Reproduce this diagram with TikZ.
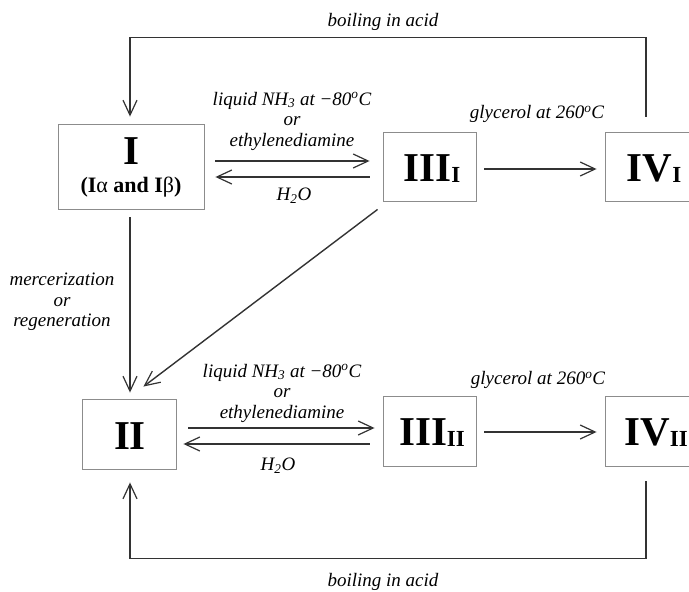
\documentclass[tikz,border=0pt]{standalone}
\usepackage{fontspec}
\setmainfont{Liberation Serif}
\usetikzlibrary{arrows.meta}
\begin{document}
\begin{tikzpicture}[x=1pt,y=-1pt,
  box/.style={draw=black!45, line width=0.9pt, fill=white, inner sep=0pt},
  conn/.style={draw=black!80, line width=1.4pt,
    -{Straight Barb[length=15pt,width=14pt,line width=1.2pt]}},
  lab/.style={font=\fontsize{19}{20.5}\selectfont\itshape, inner sep=0pt},
  big/.style={font=\fontsize{41}{41}\selectfont\bfseries, inner sep=0pt},
  mid/.style={font=\fontsize{22}{22}\selectfont\bfseries, inner sep=0pt}]
\useasboundingbox (0,0) rectangle (689,592);
\clip (0,0) rectangle (689,592);
\newcommand{\sub}[1]{\raisebox{-1pt}{\fontsize{23}{23}\selectfont #1}}

% polymorph boxes
\node[box, minimum width=146, minimum height=85] (I) at (131,166.5) {};
\node[big] (Ia) at (131,151) {I};
\node[mid] (Ib) at (131,187) {(I{\mdseries α} and I{\mdseries β})};
\node[box, minimum width=93, minimum height=69] (III1) at (429.5,166.5) {};
\node[big] (III1t) at (432,169) {III\sub{I}};
\node[box, minimum width=93, minimum height=69] (IV1) at (651.5,166.5) {};
\node[big] (IV1t) at (654,169) {IV\sub{I}};
\node[box, minimum width=94, minimum height=70] (II) at (129,434) {};
\node[big] (IIt) at (130,436) {II};
\node[box, minimum width=93, minimum height=70] (III2) at (429.5,431) {};
\node[big] (III2t) at (432,433) {III\sub{II}};
\node[box, minimum width=93, minimum height=70] (IV2) at (651.5,431) {};
\node[big] (IV2t) at (656,433) {IV\sub{II}};

% upper row
\draw[conn] ([xshift=11pt,yshift=5.5pt]I.east) -- ([xshift=-13pt,yshift=5.5pt]III1.west);
\draw[conn] ([xshift=-13pt,yshift=-10.5pt]III1.west) -- ([xshift=11pt,yshift=-10.5pt]I.east);
\draw[conn] ([xshift=8pt,yshift=-2.5pt]III1.east) -- ([xshift=-8pt,yshift=-2.5pt]IV1.west);

% lower row
\draw[conn] ([xshift=12pt,yshift=6pt]II.east) -- ([xshift=-8pt,yshift=3pt]III2.west);
\draw[conn] ([xshift=-13pt,yshift=-13pt]III2.west) -- ([xshift=7pt,yshift=-10pt]II.east);
\draw[conn] ([xshift=8pt,yshift=-1pt]III2.east) -- ([xshift=-8pt,yshift=-1pt]IV2.west);

% I -> II and III_I -> II
\draw[conn] ([xshift=-1pt,yshift=-8pt]I.south) -- ([xshift=1pt,yshift=6pt]II.north);
\draw[conn] ([xshift=-5pt,yshift=-8pt]III1.south west) -- ([xshift=-33pt,yshift=12pt]II.north east);

% acid loops
\draw[conn] ([xshift=-5.5pt,yshift=15pt]IV1.north) |- ([xshift=-1pt,yshift=86pt]I.north)
  -- ([xshift=-1pt,yshift=7pt]I.north);
\draw[conn] ([xshift=-5.5pt,yshift=-15pt]IV2.south) |- ([xshift=1pt,yshift=-89pt]II.south)
  -- ([xshift=1pt,yshift=-13pt]II.south);

% reaction conditions
\node[lab] (tacid) at (383,22) {boiling in acid};
\node[lab] (bacid) at (383,582) {boiling in acid};
\node[lab, align=center] (u1) at (292,121) {liquid NH\textsubscript{3} at −80\textsuperscript{o}C\\or\\ethylenediamine};
\node[lab] (u2) at (294,196) {H\textsubscript{2}O};
\node[lab] (u3) at (537,114) {glycerol at 260\textsuperscript{o}C};
\node[lab, align=center] (l1) at (282,393) {liquid NH\textsubscript{3} at −80\textsuperscript{o}C\\or\\ethylenediamine};
\node[lab] (l2) at (278,466) {H\textsubscript{2}O};
\node[lab] (l3) at (538,380) {glycerol at 260\textsuperscript{o}C};
\node[lab, align=center] (merc) at (62,302) {mercerization\\or\\regeneration};
\end{tikzpicture}
\end{document}
